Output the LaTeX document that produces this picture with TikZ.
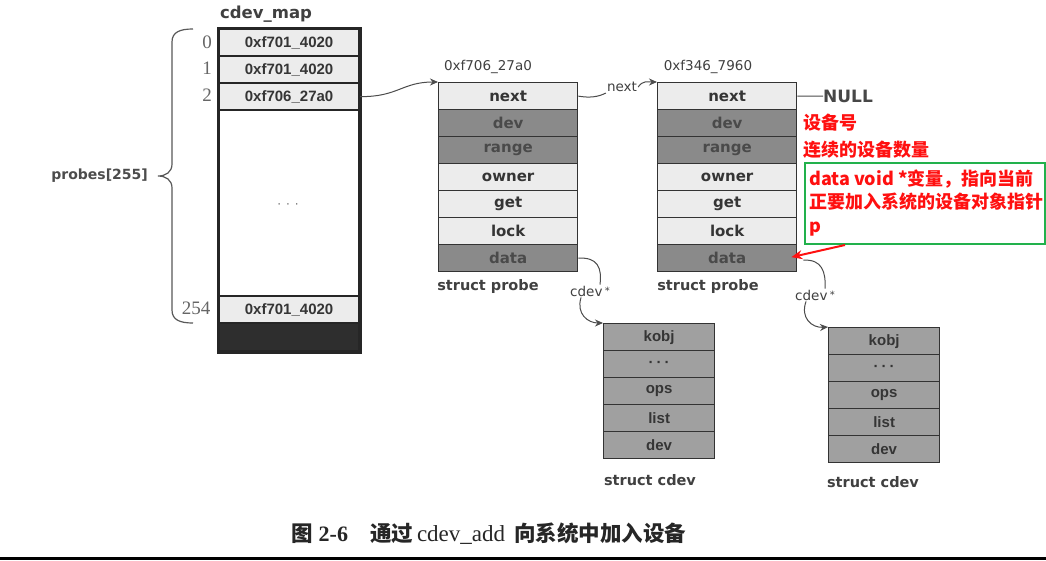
\documentclass[tikz,border=0pt]{standalone}
\usepackage{fontspec}
\usetikzlibrary{arrows.meta,calc}
\newfontfamily\dv{DejaVu Sans}
\newfontfamily\lsans{Liberation Sans}
\newfontfamily\lser{Liberation Serif}
\newfontfamily\cjk{Noto Sans CJK SC}
\newcommand\myfs[1]{\fontsize{#1}{#1}\selectfont}
\definecolor{lightcell}{HTML}{ECECEC}
\definecolor{darkcell}{HTML}{8A8A8A}
\definecolor{midcell}{HTML}{A0A0A0}
\definecolor{txt}{HTML}{353535}
\definecolor{dtxt}{HTML}{4A4A4A}
\definecolor{grn}{HTML}{22B14C}
\definecolor{redt}{HTML}{FF1010}
\tikzset{
  pf/.style={draw=black!80, line width=1.3pt, minimum width=139pt, minimum height=27pt,
    anchor=north west, inner sep=0pt, font=\dv\bfseries\myfs{15}, text=txt},
  pl/.style={pf, fill=lightcell},
  pd/.style={pf, fill=darkcell, text=dtxt},
  cf/.style={draw=black!80, line width=1.3pt, fill=midcell, minimum width=111pt, minimum height=27pt,
    anchor=north west, inner sep=0pt, font=\lsans\bfseries\myfs{15}, text=txt},
  mc/.style={draw=black!85, line width=2.2pt, fill=lightcell, minimum width=140pt, minimum height=27pt,
    anchor=north west, inner sep=0pt, font=\lsans\bfseries\myfs{15}, text=txt},
  idx/.style={font=\lser\myfs{19}, text=black!60, inner sep=0pt},
  lbl/.style={font=\dv\bfseries\myfs{14.5}, text=black!75, inner sep=1pt},
  addr/.style={font=\dv\myfs{13.5}, text=black!75, inner sep=1pt},
  smalllbl/.style={font=\dv\myfs{13.5}, text=black!75, inner sep=1pt},
  conn/.style={draw=black!70, line width=1pt},
  arr/.style={conn, -{Stealth[length=8pt,width=7pt]}},
  note/.style={font=\cjk\bfseries\myfs{18}, text=redt, inner sep=0pt, anchor=base west},
}
\begin{document}
\begin{tikzpicture}[x=1pt,y=-1pt]
\useasboundingbox (0,0) rectangle (1046,560);
\fill[white] (0,0) rectangle (1046,560);

% cdev_map array
\node[font=\dv\bfseries\myfs{16.5}, text=black!75] (mapname) at (266,14) {cdev\_map};
\node[mc] (m0) at (218,28) {0xf701\_4020};
\node[mc] (m1) at (218,55) {0xf701\_4020};
\node[mc] (m2) at (218,82) {0xf706\_27a0};
\node[draw=black!85, line width=2.2pt, fill=white, minimum width=140pt, minimum height=186pt,
  anchor=north west, inner sep=0pt] (mmid) at (218,109) {};
\node[font=\dv\myfs{12}, text=black!55] (mdots) at (288,206) {·\hspace{5pt}·\hspace{5pt}·};
\node[mc] (m254) at (218,295) {0xf701\_4020};
\node[draw=black!85, line width=2.2pt, fill=black!82, minimum width=140pt, minimum height=28pt,
  anchor=north west, inner sep=0pt] (mblk) at (218,322) {};
\draw[black!85, line width=2.6pt] (m0.north west) rectangle (mblk.south east);

\node[idx] (i0) at (207,42) {0};
\node[idx] (i1) at (207,68) {1};
\node[idx] (i2) at (207,95) {2};
\node[idx] (i254) at (196,308) {254};

% brace
\draw[black!65, line width=1.2pt] (193,29) .. controls (180,29) and (172,32) .. (172,42) -- (172,164)
  .. controls (172,172) and (166,176) .. (158,176) .. controls (166,176) and (172,180) .. (172,188)
  -- (172,310) .. controls (172,320) and (180,323) .. (193,323);
\node[font=\dv\bfseries\myfs{14}, text=black!70, anchor=east, inner sep=0pt] (probes) at (148,176) {probes[255]};

% probe 1
\node[addr] (a1) at (488,67) {0xf706\_27a0};
\node[pl] (p1next)  at (438,82)  {next};
\node[pd] (p1dev)   at (438,109) {dev};
\node[pd] (p1range) at (438,136) {range};
\node[pl] (p1owner) at (438,163) {owner};
\node[pl] (p1get)   at (438,190) {get};
\node[pl] (p1lock)  at (438,217) {lock};
\node[pd] (p1data)  at (438,244) {data};
\node[lbl] (s1) at (488,286) {struct probe};

% probe 2
\node[addr] (a2) at (708,67) {0xf346\_7960};
\node[pl] (p2next)  at (657,82)  {next};
\node[pd] (p2dev)   at (657,109) {dev};
\node[pd] (p2range) at (657,136) {range};
\node[pl] (p2owner) at (657,163) {owner};
\node[pl] (p2get)   at (657,190) {get};
\node[pl] (p2lock)  at (657,217) {lock};
\node[pd] (p2data)  at (657,244) {data};
\node[lbl] (s2) at (708,286) {struct probe};
\node[font=\dv\bfseries\myfs{17}, text=black!72, anchor=west, inner sep=0pt] (null) at (823,96) {NULL};

% cdev 1
\node[cf] (c1kobj) at (603,323) {kobj};
\node[cf] (c1dots) at (603,350) {·\hspace{3pt}·\hspace{3pt}·};
\node[cf] (c1ops)  at (603,377) {ops};
\node[cf] (c1list) at (603,404) {list};
\node[cf] (c1dev)  at (603,431) {dev};
\node[lbl] (sc1) at (650,480) {struct cdev};

% cdev 2
\node[cf] (c2kobj) at (828,327) {kobj};
\node[cf] (c2dots) at (828,354) {·\hspace{3pt}·\hspace{3pt}·};
\node[cf] (c2ops)  at (828,381) {ops};
\node[cf] (c2list) at (828,408) {list};
\node[cf] (c2dev)  at (828,435) {dev};
\node[lbl] (sc2) at (873,482) {struct cdev};

% connectors
\draw[arr] (m2.east) .. controls (398,97) and (402,82) .. (p1next.north west);
\node[smalllbl] (nxt) at (622,87) {next};
\draw[conn] (p1next.east) .. controls (590,98) and (598,97) .. (nxt.south west);
\draw[arr] (nxt.east) .. controls (643,80) and (648,82) .. (p2next.north west);
\draw[conn] (p2next.east) -- (null.west);

\node[smalllbl] (cl1) at (590,291) {cdev\,\raisebox{2pt}{\myfs{10}*}};
\draw[conn] (p1data.east) .. controls (598,257) and (602,268) .. ($(cl1.north)+(10,0)$);
\draw[arr] ($(cl1.south west)+(12,0)$) .. controls (576,314) and (588,323) .. (c1kobj.north west);

\node[smalllbl] (cl2) at (815,295) {cdev\,\raisebox{2pt}{\myfs{10}*}};
\draw[conn] ($(p2data.east)+(6,2)$) .. controls (822,259) and (826,272) .. ($(cl2.north)+(10,0)$);
\draw[arr] ($(cl2.south west)+(12,0)$) .. controls (800,318) and (812,328) .. (c2kobj.north west);

% annotations
\node[note] (n1) at (803,129) {设备号};
\node[note] (n2) at (803,156) {连续的设备数量};
\node[draw=grn, line width=2pt, minimum width=240pt, minimum height=81pt, anchor=north west, inner sep=0pt] (gbox) at (804,162) {};
\node[note] (g1) at (809,185) {data void *变量，指向当前};
\node[note] (g2) at (809,208.5) {正要加入系统的设备对象指针};
\node[note] (g3) at (809,232) {p};
\coordinate (rs) at (845,245);
\draw[redt, line width=2pt, -{Stealth[length=11pt,width=9pt]}] (rs) -- ($(p2data.east)+(-6,-1)$);

% caption
\node[anchor=base west, inner sep=0pt, text=black!85] (cap) at (291,541)
  {{\cjk\bfseries\myfs{21.5}图}\hspace{6pt}{\lser\bfseries\myfs{22}2-6}\hspace{22pt}{\cjk\bfseries\myfs{21.5}通过}\hspace{4pt}{\lser\myfs{23}cdev\_add}\hspace{9pt}{\cjk\bfseries\myfs{21.5}向系统中加入设备}};

\fill[black] (0,557) rectangle (1046,560);
\end{tikzpicture}
\end{document}
